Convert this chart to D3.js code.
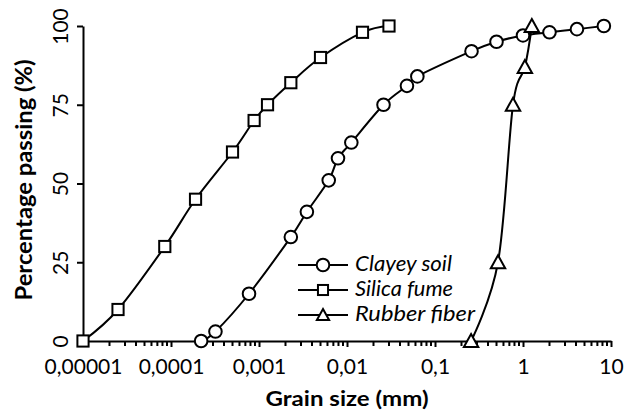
<!DOCTYPE html>
<html>
<head>
<meta charset="utf-8">
<script src="https://cdn.jsdelivr.net/npm/d3@7/dist/d3.min.js"></script>
<style>
  html, body { margin: 0; padding: 0; background: #fff; }
  svg { display: block; }
  text { font-family: Lato, "Open Sans", sans-serif; fill: #000; }
</style>
</head>
<body>
<svg id="chart" width="635" height="414"></svg>
<script>
// ---- data ----
const seriesNames = ["Clayey soil", "Silica fume", "Rubber fiber"];

const silicaSize    = [1e-5, 2.5e-5, 8.5e-5, 1.9e-4, 5e-4, 8.8e-4, 1.25e-3, 2.3e-3, 5e-3, 0.015, 0.03];
const silicaPassing = [0, 10, 30, 45, 60, 70, 75, 82, 90, 98, 100];

const claySize    = [2.2e-4, 3.2e-4, 7.7e-4, 2.3e-3, 3.5e-3, 6.2e-3, 7.9e-3, 0.0112, 0.026, 0.048, 0.063, 0.26, 0.5, 1.0, 2.0, 4.1, 8.3];
const clayPassing = [0, 3, 15, 33, 41, 51, 58, 63, 75, 81, 84, 92, 95, 97, 98, 99, 100];

const rubberSize    = [0.257, 0.52, 0.77, 1.05, 1.26];
const rubberPassing = [0, 25, 75, 87, 100];

const xTickValues = [1e-5, 1e-4, 1e-3, 1e-2, 0.1, 1, 10];
const xTickLabels = ["0,00001", "0,0001", "0,001", "0,01", "0,1", "1", "10"];
const yTickValues = [0, 25, 50, 75, 100];

const xTitle = "Grain size (mm)";
const yTitle = "Percentage passing (%)";

// ---- chart ----
const svg = d3.select("#chart");
const x = d3.scaleLog().domain([1e-5, 10]).range([83, 611]);
const y = d3.scaleLinear().domain([0, 100]).range([341, 26]);

const zip = (xs, ys) => xs.map((v, i) => [v, ys[i]]);
const series = [
  { name: seriesNames[1], data: zip(silicaSize, silicaPassing), marker: "square" },
  { name: seriesNames[0], data: zip(claySize, clayPassing), marker: "circle" },
  { name: seriesNames[2], data: zip(rubberSize, rubberPassing), marker: "triangle" }
];

// minor ticks for x
const minorTicks = [];
for (let e = -5; e < 1; e++) {
  for (let m = 2; m <= 9; m++) minorTicks.push(m * Math.pow(10, e));
}

const xAxis = d3.axisBottom(x).tickValues(xTickValues)
  .tickFormat((d, i) => xTickLabels[i]).tickSize(6).tickSizeOuter(0);
const gx = svg.append("g").attr("transform", `translate(0,${y(0)})`).call(xAxis);
gx.select(".domain").attr("stroke", "#000").attr("stroke-width", 2);
gx.selectAll(".tick line").attr("stroke", "#000").attr("stroke-width", 2);
gx.selectAll(".tick text").attr("font-size", 21).attr("font-family", "Lato").attr("dy", null).attr("y", 33);

gx.selectAll(".minor").data(minorTicks).enter().append("line")
  .attr("class", "minor")
  .attr("x1", d => x(d)).attr("x2", d => x(d))
  .attr("y1", 0).attr("y2", 5)
  .attr("stroke", "#000").attr("stroke-width", 2);

const yAxis = d3.axisLeft(y).tickValues(yTickValues).tickSize(6).tickSizeOuter(0);
const gy = svg.append("g").attr("transform", `translate(${x(1e-5)},0)`).call(yAxis);
gy.select(".domain").attr("stroke", "#000").attr("stroke-width", 2);
gy.selectAll(".tick line").attr("stroke", "#000").attr("stroke-width", 2);
gy.selectAll(".tick text")
  .attr("font-size", 21).attr("font-family", "Lato")
  .attr("x", null).attr("dy", null)
  .attr("text-anchor", "middle")
  .attr("transform", "translate(-15,0) rotate(-90)");

// titles
svg.append("text")
  .attr("x", 347).attr("y", 406)
  .attr("text-anchor", "middle")
  .attr("font-size", 21).attr("font-weight", "bold")
  .attr("textLength", 163).attr("lengthAdjust", "spacingAndGlyphs")
  .text(xTitle);

svg.append("text")
  .attr("transform", "translate(32,180) rotate(-90)")
  .attr("text-anchor", "middle")
  .attr("font-size", 22).attr("font-weight", "bold")
  .attr("textLength", 241).attr("lengthAdjust", "spacingAndGlyphs")
  .text(yTitle);

// markers
function drawMarker(g, type, cx, cy, scale) {
  const s = scale || 1;
  if (type === "circle") {
    g.append("circle").attr("cx", cx).attr("cy", cy).attr("r", 6.3 * s)
      .attr("fill", "#fff").attr("stroke", "#000").attr("stroke-width", 2);
  } else if (type === "square") {
    const h = 5.6 * s;
    g.append("rect").attr("x", cx - h).attr("y", cy - h).attr("width", 2 * h).attr("height", 2 * h)
      .attr("fill", "#fff").attr("stroke", "#000").attr("stroke-width", 2);
  } else {
    const w = 7.2 * s, hh = 6.5 * s;
    g.append("path")
      .attr("d", `M${cx},${cy - hh - 0.5}L${cx + w},${cy + hh - 0.5}L${cx - w},${cy + hh - 0.5}Z`)
      .attr("fill", "#fff").attr("stroke", "#000").attr("stroke-width", 2).attr("stroke-linejoin", "miter");
  }
}

const line = d3.line().x(d => x(d[0])).y(d => y(d[1])).curve(d3.curveCardinal.tension(0));

series.forEach(s => {
  const g = svg.append("g");
  g.append("path").attr("d", line(s.data))
    .attr("fill", "none").attr("stroke", "#000").attr("stroke-width", 2);
  s.data.forEach(d => drawMarker(g, s.marker, x(d[0]), y(d[1])));
});

// legend
const legendItems = [
  { name: seriesNames[0], marker: "circle", scale: 1 },
  { name: seriesNames[1], marker: "square", scale: 0.9 },
  { name: seriesNames[2], marker: "triangle", scale: 0.85 }
];
const legendWidths = [97, 98, 120];
const lg = svg.append("g");
legendItems.forEach((it, i) => {
  const cy = 265 + i * 25;
  lg.append("line").attr("x1", 298).attr("x2", 348).attr("y1", cy).attr("y2", cy)
    .attr("stroke", "#000").attr("stroke-width", 2);
  drawMarker(lg, it.marker, 323, cy, it.scale);
  lg.append("text").attr("x", 355).attr("y", cy + 6)
    .attr("font-size", 21).attr("font-style", "italic")
    .attr("textLength", legendWidths[i]).attr("lengthAdjust", "spacingAndGlyphs")
    .text(it.name);
});
</script>
</body>
</html>
